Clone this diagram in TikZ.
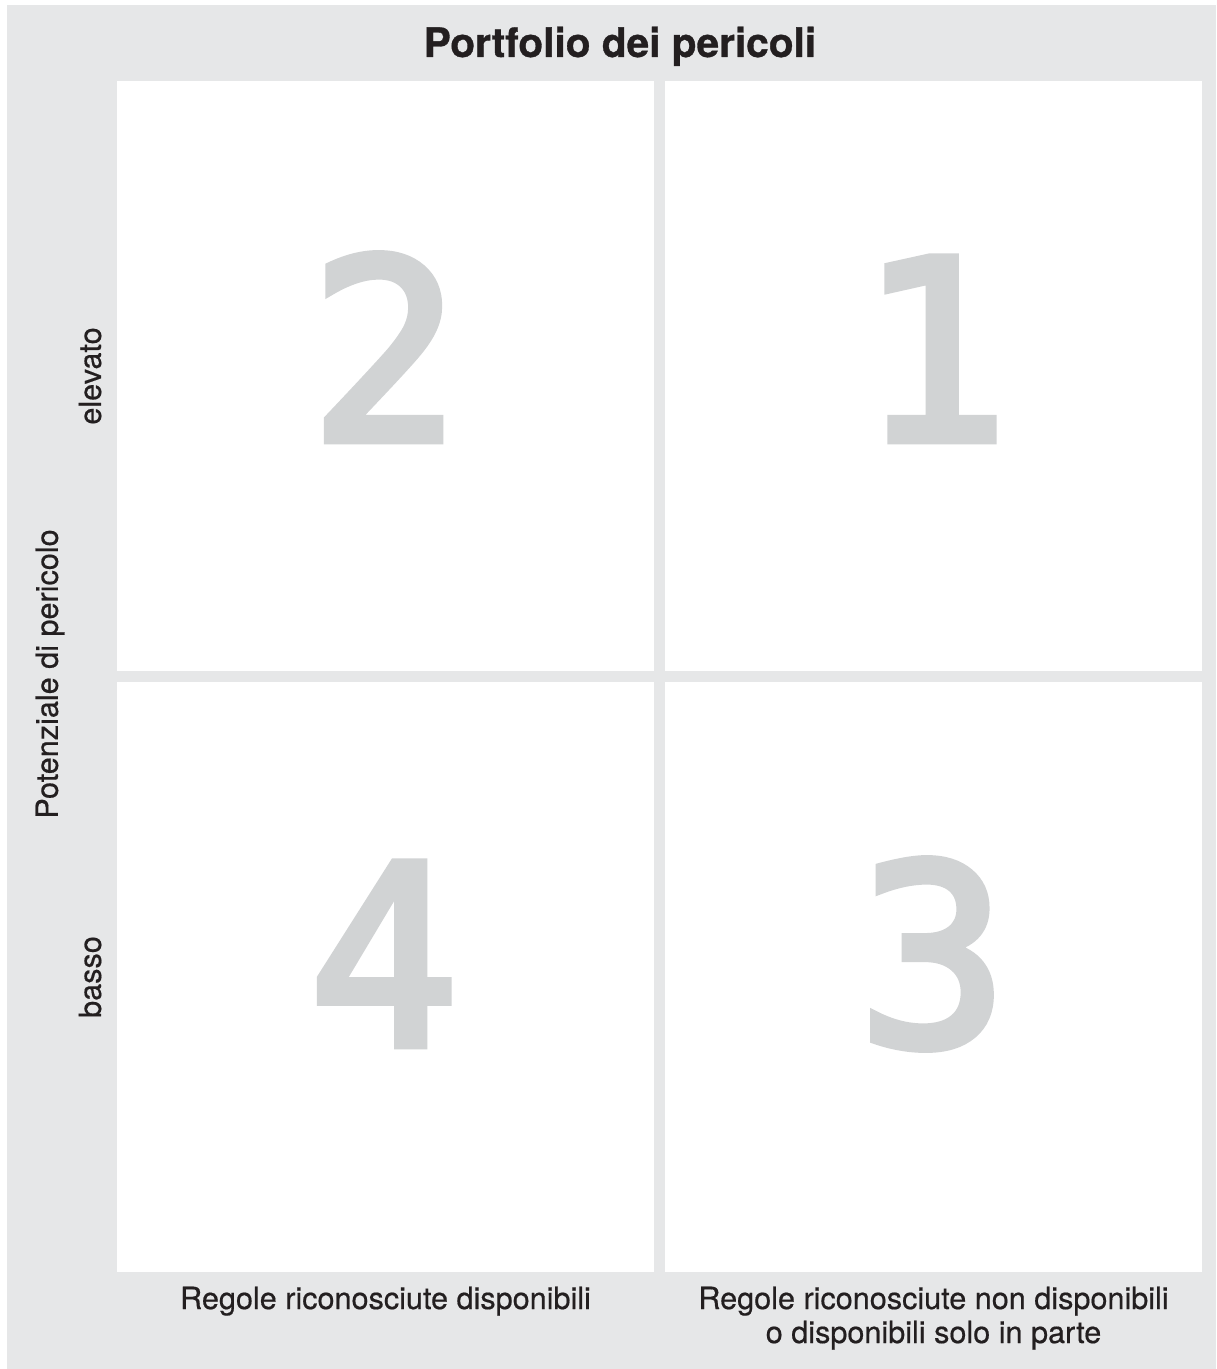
\documentclass[tikz,border=0pt]{standalone}
\usepackage{fontspec}
\setmainfont{TeX Gyre Heros}
\newfontfamily\numfont[FakeBold=3.5]{DejaVu Sans Mono}
\newfontfamily\labfont[FakeBold=0.5]{TeX Gyre Heros}
\newfontfamily\titfont[FakeBold=0.8]{TeX Gyre Heros Bold}
\definecolor{bggray}{HTML}{E6E7E8}
\definecolor{numgray}{HTML}{D1D3D4}
\definecolor{txt}{HTML}{231F20}
\begin{document}
\begin{tikzpicture}[x=0.5pt,y=-0.5pt,
  quad/.style={fill=white,draw=none},
  bignum/.style={font=\numfont\fontsize{125}{125}\selectfont,text=numgray,inner sep=0pt,anchor=base},
  lab/.style={font=\labfont\fontsize{15.3}{17}\selectfont,text=txt,inner sep=0pt,align=center},
  title/.style={font=\titfont\fontsize{20.3}{22}\selectfont,text=txt,inner sep=0pt}]
\useasboundingbox (0,0) rectangle (1216,1369);
\fill[bggray] (7,5) rectangle (1216,1369);
\path[quad] (117,81) rectangle (654,671);
\path[quad] (665,81) rectangle (1202,671);
\path[quad] (117,682) rectangle (654,1272);
\path[quad] (665,682) rectangle (1202,1272);
\node[title,anchor=base] (t) at (620,57) {Portfolio dei pericoli};
\node[bignum] (n2) at (385,440) {2};
\node[bignum] (n1) at (934,440) {1};
\node[bignum] (n4) at (384,1045) {4};
\node[bignum] (n3) at (933,1045) {3};
\node[lab,anchor=base] (bl) at (385.5,1309) {Regole riconosciute disponibili};
\node[lab,anchor=base] (br) at (933.5,1309) {Regole riconosciute non disponibili};
\node[lab,anchor=base] (br2) at (933.5,1343) {o disponibili solo in parte};
\node[lab,rotate=90] (el) at (90,376) {elevato};
\node[lab,rotate=90] (ba) at (90,977) {basso};
\node[lab,rotate=90] (pp) at (50,674) {Potenziale di pericolo};
\end{tikzpicture}
\end{document}
